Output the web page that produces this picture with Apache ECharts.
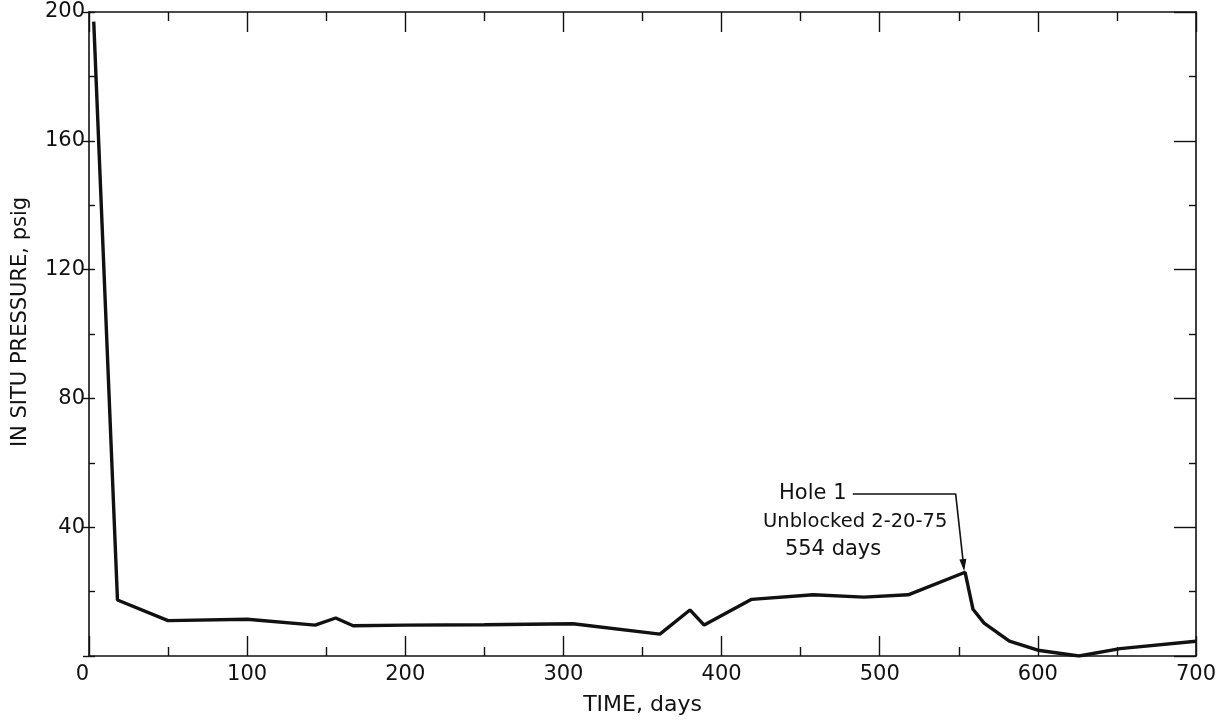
<!DOCTYPE html>
<html>
<head>
<meta charset="utf-8">
<script src="https://cdn.jsdelivr.net/npm/echarts@6/dist/echarts.min.js"></script>
<style>
  html, body { margin: 0; padding: 0; background: #fff; }
  #chart { width: 1231px; height: 721px; }
</style>
</head>
<body>
<div id="chart"></div>
<script>
// In situ pressure record, days since start vs. psig
const days     = [3, 18, 50, 100, 143, 156, 167, 200, 250, 306, 361, 380, 389, 419, 458, 490, 518, 554, 559, 566, 582, 600, 626, 652, 700];
const pressure = [197, 17.4, 11.0, 11.4, 9.6, 11.8, 9.4, 9.6, 9.7, 10.0, 6.8, 14.3, 9.6, 17.6, 19.0, 18.3, 19.0, 26.0, 14.5, 10.2, 4.6, 1.8, 0, 2.3, 4.6];

const xTicks = [0, 100, 200, 300, 400, 500, 600, 700];
const yTicks = [0, 40, 80, 120, 160, 200];

// Annotation for the unblocking event
const noteLines = ['Hole 1', 'Unblocked 2-20-75', '554 days'];
const noteDay = 554;

const font = '"DejaVu Sans", "Liberation Sans", sans-serif';
const ink = '#111';

const chart = echarts.init(document.getElementById('chart'));

const points = days.map((d, i) => [d, pressure[i]]);

const line = { show: true, onZero: false, lineStyle: { color: ink, width: 1.6 } };

const xBase = {
  type: 'value', min: xTicks[0], max: xTicks[xTicks.length - 1], interval: 100,
  splitLine: { show: false },
  axisLine: line,
  axisTick: { show: true, inside: true, length: 20, lineStyle: { color: ink, width: 1.4 } },
  minorTick: { show: true, splitNumber: 2, length: 9, lineStyle: { color: ink, width: 1.4 } }
};

chart.setOption({
  animation: false,
  backgroundColor: '#fff',
  grid: { left: 89, right: 35, top: 12, bottom: 65, containLabel: false, outerBoundsMode: 'none' },
  xAxis: [
    Object.assign({}, xBase, {
      position: 'bottom',
      name: 'TIME, days', nameLocation: 'middle', nameGap: 38,
      nameTextStyle: { fontFamily: font, fontSize: 22, color: ink },
      axisLabel: {
        fontFamily: font, fontSize: 21, color: ink, margin: 8,
        formatter: v => (v === 0 ? '0  ' : String(v))
      }
    }),
    Object.assign({}, xBase, {
      position: 'top',
      axisLabel: { show: false }
    })
  ],
  yAxis: [
    {
      type: 'value', min: yTicks[0], max: yTicks[yTicks.length - 1], interval: 40, position: 'left',
      name: 'IN SITU PRESSURE, psig', nameLocation: 'middle', nameGap: 58,
      nameTextStyle: { fontFamily: font, fontSize: 21, color: ink, padding: [0, 0, 0, 24] },
      splitLine: { show: false },
      axisLine: line,
      axisTick: { show: true, inside: false, length: 6, lineStyle: { color: ink, width: 1.4 } },
      axisLabel: {
        fontFamily: font, fontSize: 21, color: ink, margin: 4,
        formatter: v => (v === 0 ? '' : String(v))
      }
    },
    {
      type: 'value', min: 0, max: 200, interval: 20, position: 'left',
      splitLine: { show: false },
      axisLine: { show: false, onZero: false },
      axisTick: { show: true, inside: true, length: 6, lineStyle: { color: ink, width: 1.4 } },
      axisLabel: { show: false }
    },
    {
      type: 'value', min: 0, max: 200, interval: 40, position: 'right',
      splitLine: { show: false },
      axisLine: line,
      axisTick: { show: true, inside: true, length: 22, lineStyle: { color: ink, width: 1.4 } },
      minorTick: { show: true, splitNumber: 2, length: 7, lineStyle: { color: ink, width: 1.4 } },
      axisLabel: { show: false }
    }
  ],
  series: [
    {
      type: 'line',
      data: points,
      showSymbol: false,
      symbol: 'none',
      lineStyle: { color: ink, width: 3.4 },
      z: 3,
      markLine: {
        silent: true,
        symbol: ['none', 'none'],
        lineStyle: { color: ink, width: 1.6, type: 'solid' },
        label: { show: false },
        data: [
          [ { coord: [483, 50.4] }, { coord: [548, 50.4] } ],
          [ { coord: [548, 50.4] }, { coord: [noteDay - 1, 28.2], symbol: 'triangle', symbolSize: [7, 12] } ]
        ]
      }
    },
    {
      type: 'scatter',
      symbolSize: 0,
      silent: true,
      itemStyle: { opacity: 1 },
      data: [
        { value: [479, 50.4], label: { formatter: noteLines[0], align: 'right' } },
        { value: [484.5, 41.5], label: { formatter: noteLines[1], align: 'center', fontSize: 19.5 } },
        { value: [470.5, 33.0], label: { formatter: noteLines[2], align: 'center' } }
      ],
      label: {
        show: true, position: 'inside', fontFamily: font, fontSize: 21, color: ink,
        verticalAlign: 'middle'
      }
    }
  ]
});
</script>
</body>
</html>
